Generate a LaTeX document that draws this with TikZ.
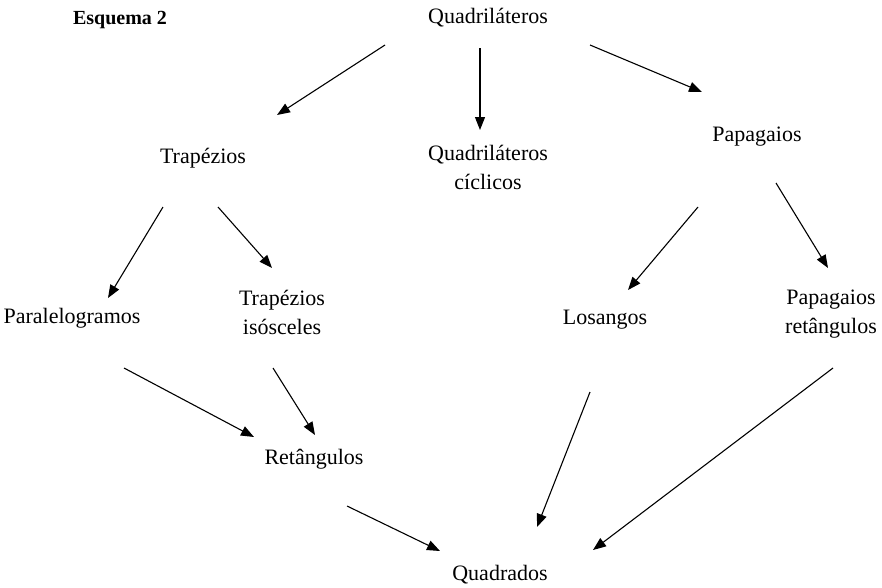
\documentclass[tikz,border=0pt]{standalone}
\usepackage{fontspec}
\setmainfont{Liberation Serif}
\usetikzlibrary{arrows.meta,calc}
\begin{document}
\begin{tikzpicture}[x=1pt,y=-1pt,
  lbl/.style={font=\fontsize{22}{29}\selectfont, align=center, inner sep=0pt},
  arr/.style={line width=1.1pt, -{Triangle[length=13pt,width=10pt]}}]
\useasboundingbox (0,0) rectangle (882,587);
\node[lbl,font=\fontsize{20}{24}\selectfont\bfseries] (e) at (120,20) {Esquema 2};
\node[lbl] (q) at (488,18) {Quadriláteros};
\node[lbl] (t) at (203,158) {Trapézios};
\node[lbl] (qc) at (488,167) {Quadriláteros\\cíclicos};
\node[lbl] (p) at (757,137) {Papagaios};
\node[lbl] (pa) at (72,318) {Paralelogramos};
\node[lbl] (ti) at (282,312) {Trapézios\\isósceles};
\node[lbl] (l) at (605,320) {Losangos};
\node[lbl] (pr) at (831,314) {Papagaios\\retângulos};
\node[lbl] (r) at (314,459) {Retângulos};
\node[lbl] (qd) at (500,575) {Quadrados};
\draw[arr] ($(q)+(-103,27)$) -- ($(t)+(74,-43)$);
\draw[arr] ($(q)+(-8,30)$) -- ($(qc)+(-8,-37)$);
\draw[arr] ($(q)+(102,27)$) -- ($(p)+(-55,-45)$);
\draw[arr] ($(t)+(-40,49)$) -- ($(pa)+(36,-20)$);
\draw[arr] ($(t)+(15,49)$) -- ($(ti)+(-10,-44)$);
\draw[arr] ($(p)+(-59,70)$) -- ($(l)+(23,-30)$);
\draw[arr] ($(p)+(19,46)$) -- ($(pr)+(-3,-46)$);
\draw[arr] ($(pa)+(52,50)$) -- ($(r)+(-60,-22)$);
\draw[arr] ($(ti)+(-9,56)$) -- ($(r)+(1,-24)$);
\draw[arr] ($(l)+(-15,72)$) -- ($(qd)+(37,-48)$);
\draw[arr] ($(pr)+(2,54)$) -- ($(qd)+(93,-25)$);
\draw[arr] ($(r)+(33,47)$) -- ($(qd)+(-60,-24)$);
\end{tikzpicture}
\end{document}
